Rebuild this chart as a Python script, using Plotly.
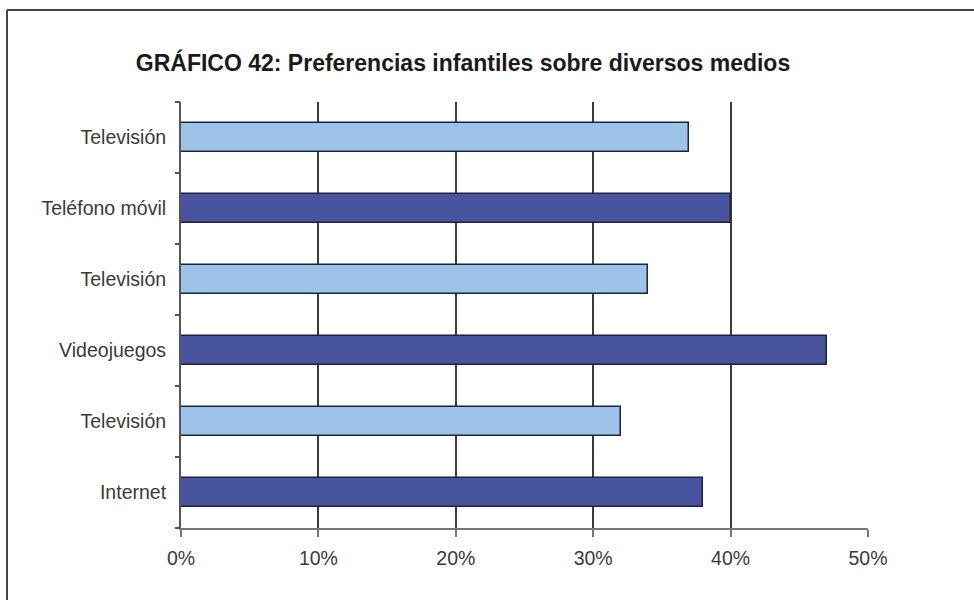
import plotly.graph_objects as go

# ---- data (top to bottom) ----
categories = ["Televisión", "Teléfono móvil", "Televisión", "Videojuegos", "Televisión", "Internet"]
values = [0.37, 0.40, 0.34, 0.47, 0.32, 0.38]
x_tick_vals = [0, 0.1, 0.2, 0.3, 0.4, 0.5]
x_tick_labels = ["0%", "10%", "20%", "30%", "40%", "50%"]
title_text = "GRÁFICO 42: Preferencias infantiles sobre diversos medios"

LIGHT = "#9DC3E8"
DARK = "#48549D"
n = len(categories)
positions = [i + 0.5 for i in range(n)]  # category centres, 0 = top
colors = [LIGHT if i % 2 == 0 else DARK for i in range(n)]

W, H = 974, 600
L, R, T, B = 181, 974 - 868, 102, 600 - 528
FONT = "Liberation Sans, Arial, sans-serif"

fig = go.Figure()
fig.add_trace(go.Bar(
    x=values, y=positions, orientation="h", width=0.42,
    marker=dict(color=colors, line=dict(color="#1f2340", width=1.5)),
    hoverinfo="x+y", showlegend=False,
))
# invisible trace on yaxis2 for boundary ticks
fig.add_trace(go.Scatter(x=[None], y=[None], yaxis="y2", showlegend=False))

fig.update_layout(
    width=W, height=H,
    margin=dict(l=L, r=R, t=T, b=B),
    paper_bgcolor="white", plot_bgcolor="white",
    font=dict(family=FONT, color="#3a3a3a", size=19.5),
    title=dict(text="<b>" + title_text + "</b>", x=463 / W, xref="container",
               xanchor="center", y=1 - 63 / H, yanchor="middle",
               font=dict(family=FONT, size=23, color="#1a1a1a")),
    bargap=0,
    xaxis=dict(range=[0, 0.5], tickvals=x_tick_vals, ticktext=x_tick_labels,
               showgrid=True, gridcolor="#3a3a3a", gridwidth=1.5,
               showline=True, linecolor="#777777", linewidth=2,
               ticks="outside", ticklen=7, tickcolor="#777777", tickwidth=1.5,
               ticklabelstandoff=5,
               zeroline=False, fixedrange=True,
               tickfont=dict(size=19.5, color="#3a3a3a")),
    yaxis=dict(range=[n, 0], tickvals=positions, ticktext=categories,
               showgrid=False, zeroline=False,
               showline=True, linecolor="#555555", linewidth=2,
               ticks="", ticklabelstandoff=9, fixedrange=True,
               tickfont=dict(size=19.5, color="#3a3a3a")),
    yaxis2=dict(range=[n, 0], overlaying="y", side="left",
                tickvals=list(range(n + 1)), showticklabels=False,
                ticks="outside", ticklen=5, tickcolor="#555555", tickwidth=1.5,
                showgrid=False, zeroline=False, showline=False, fixedrange=True),
)

pw = W - L - R
ph = H - T - B
def px_x(p):
    return (p - L) / pw
def px_y(p):
    return 1 - (p - T) / ph

fig.add_shape(type="line", xref="paper", yref="paper",
              x0=px_x(7), x1=px_x(1000), y0=px_y(10), y1=px_y(10),
              line=dict(color="#444444", width=2))
fig.add_shape(type="line", xref="paper", yref="paper",
              x0=px_x(7), x1=px_x(7), y0=px_y(10), y1=px_y(620),
              line=dict(color="#444444", width=2))

fig.write_html("out.html", config={"displayModeBar": False},
               post_script="document.body.style.margin='0px';document.body.style.overflow='hidden';")
